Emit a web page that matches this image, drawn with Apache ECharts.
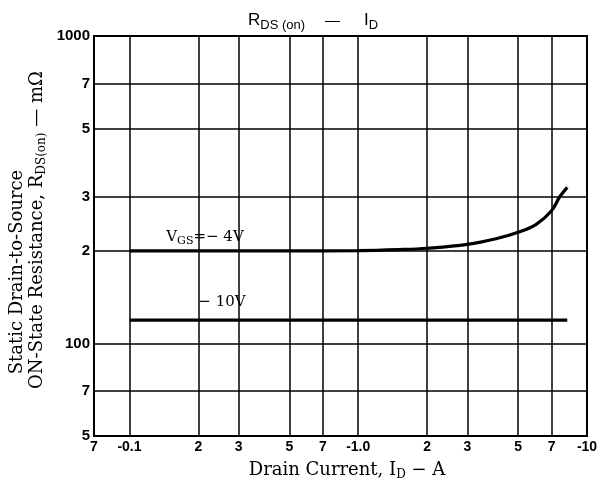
<!DOCTYPE html>
<html>
<head>
<meta charset="utf-8">
<script src="https://cdn.jsdelivr.net/npm/echarts@6/dist/echarts.min.js"></script>
<style>
html,body{margin:0;padding:0;background:#fff;}
#c{width:610px;height:491px;}
</style>
</head>
<body>
<div id="c"></div>
<script>
// ---- data ----
const xTickValues = [0.07, 0.1, 0.2, 0.3, 0.5, 0.7, 1, 2, 3, 5, 7, 10];
const xTickLabels = ["7", "-0.1", "2", "3", "5", "7", "-1.0", "2", "3", "5", "7", "-10"];
const yTickValues = [50, 70, 100, 200, 300, 500, 700, 1000];
const yTickLabels = ["5", "7", "100", "2", "3", "5", "7", "1000"];

const vgs4_id  = [0.1, 0.2, 0.5, 1.0, 1.5, 2, 3, 4, 5, 6, 7, 7.6, 8.2];
const vgs4_rds = [200, 200, 200, 200.5, 202, 204, 210, 219, 230, 244, 270, 300, 322];
const vgs10_id  = [0.1, 1.0, 8.2];
const vgs10_rds = [119, 119, 119];

const toPairs = (xs, ys) => xs.map((x, i) => [x, ys[i]]);
const xLabelMap = {}; xTickValues.forEach((v, i) => xLabelMap[v] = xTickLabels[i]);
const yLabelMap = {}; yTickValues.forEach((v, i) => yLabelMap[v] = yTickLabels[i]);
const near = (map, v) => {
  for (const k in map) { if (Math.abs(Math.log10(+k) - Math.log10(v)) < 1e-6) return map[k]; }
  return '';
};

const chart = echarts.init(document.getElementById('c'), null, {renderer: 'canvas'});
const gridLineStyle = {color: '#000', width: 1.5, type: 'solid'};
const SERIF = '"DejaVu Serif", serif';

const option = {
  animation: false,
  backgroundColor: '#fff',
  grid: {left: 94, right: 23, top: 36, bottom: 55, show: true, borderColor: '#000', borderWidth: 2, backgroundColor: 'transparent'},
  title: {
    text: '{a|R}{s|DS (on)}{g|—}{a|I}{s|D}',
    left: 243, top: 4,
    textStyle: {
      fontWeight: 'normal',
      rich: {
        a: {fontFamily: 'Liberation Sans, Arial', fontWeight: 'normal', fontSize: 17, color: '#000'},
        s: {fontFamily: 'Liberation Sans, Arial', fontWeight: 'normal', fontSize: 13, color: '#000', padding: [10, 0, 0, 0]},
        g: {fontFamily: 'Liberation Sans, Arial', fontWeight: 'normal', fontSize: 15, color: '#000', padding: [0, 24, 0, 20]}
      }
    }
  },
  xAxis: {
    type: 'log', logBase: 10, min: 0.07, max: 10,
    axisLine: {show: true, lineStyle: {color: '#000', width: 2}},
    axisTick: {show: false},
    splitLine: {show: false},
    minorTick: {show: false},
    axisLabel: {
      customValues: xTickValues,
      formatter: v => near(xLabelMap, v),
      color: '#000', fontFamily: 'Liberation Sans, Arial', fontWeight: 'bold', fontSize: 14, margin: 4
    }
  },
  yAxis: {
    type: 'log', logBase: 10, min: 50, max: 1000,
    axisLine: {show: true, lineStyle: {color: '#000', width: 2}},
    axisTick: {show: false},
    splitLine: {show: false},
    axisLabel: {
      customValues: yTickValues,
      formatter: v => near(yLabelMap, v),
      color: '#000', fontFamily: 'Liberation Sans, Arial', fontWeight: 'bold', fontSize: 15, margin: 4
    }
  },
  series: [
    {
      type: 'line', name: 'grid', data: [], silent: true,
      markLine: {
        silent: true, symbol: 'none', label: {show: false},
        lineStyle: gridLineStyle, animation: false,
        data: xTickValues.map(v => ({xAxis: v})).concat(yTickValues.map(v => ({yAxis: v})))
      }
    },
    {
      type: 'line', name: 'VGS=-4V', data: toPairs(vgs4_id, vgs4_rds), smooth: 0.4,
      showSymbol: false, lineStyle: {color: '#000', width: 3.2}
    },
    {
      type: 'line', name: 'VGS=-10V', data: toPairs(vgs10_id, vgs10_rds),
      showSymbol: false, lineStyle: {color: '#000', width: 3.2}
    }
  ],
  graphic: [
    {type: 'text', x: 17, y: 272, rotation: Math.PI / 2,
     style: {text: 'Static Drain-to-Source', font: '18px ' + SERIF, fill: '#000', align: 'center', verticalAlign: 'middle'}},
    {type: 'text', x: 37, y: 230, rotation: Math.PI / 2,
     style: {text: '{a|ON-State Resistance, R}{s|DS(on)}{a| — mΩ}', fill: '#000', align: 'center', verticalAlign: 'middle',
       rich: {a: {font: '18px ' + SERIF, fill: '#000'}, s: {font: '12px ' + SERIF, fill: '#000', padding: [10, 0, 0, 0]}}}},
    {type: 'text', x: 347, y: 470,
     style: {text: '{a|Drain Current, I}{s|D}{a| − A}', fill: '#000', align: 'center', verticalAlign: 'middle',
       rich: {a: {font: '18px ' + SERIF, fill: '#000'}, s: {font: '12px ' + SERIF, fill: '#000', padding: [10, 0, 0, 0]}}}},
    {type: 'text', x: 205, y: 237,
     style: {text: '{a|V}{s|GS}{a|=− 4V}', fill: '#000', align: 'center', verticalAlign: 'middle',
       rich: {a: {font: '15px ' + SERIF, fill: '#000'}, s: {font: '11px ' + SERIF, fill: '#000', padding: [8, 0, 0, 0]}}}},
    {type: 'text', x: 222, y: 302,
     style: {text: '− 10V', font: '15px ' + SERIF, fill: '#000', align: 'center', verticalAlign: 'middle'}}
  ]
};
chart.setOption(option);
</script>
</body>
</html>
